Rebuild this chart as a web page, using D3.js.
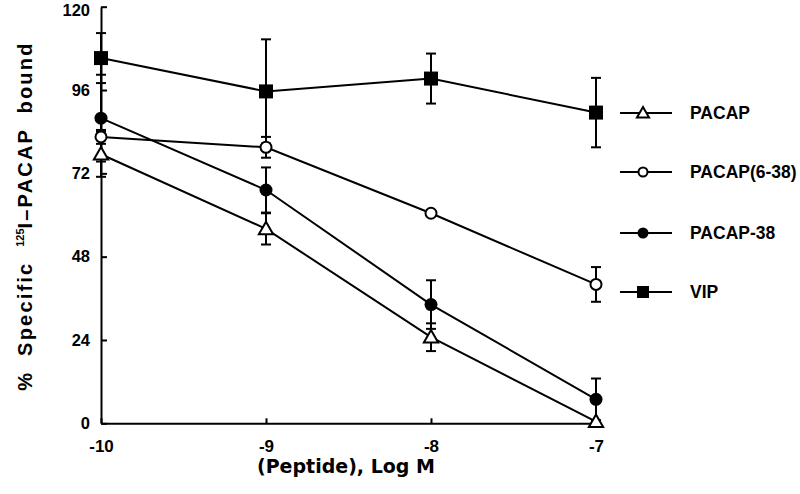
<!DOCTYPE html>
<html>
<head>
<meta charset="utf-8">
<script src="https://cdn.jsdelivr.net/npm/d3@7"></script>
<style>
  body { margin: 0; background: #fff; }
  svg { display: block; }
</style>
</head>
<body>
<svg id="chart"></svg>
<script>
// data
var logDose = [-10, -9, -8, -7];
var seriesNames = ["PACAP", "PACAP(6-38)", "PACAP-38", "VIP"];
var seriesShapes = ["triangle", "openCircle", "circle", "square"];
var pacapVals = [77.5, 56, 24.8, 0.5];
var pacapErr = [6.5, 4.5, 4, 0];
var pacap638Vals = [82.5, 79.5, 60.5, 40];
var pacap638Err = [2, 3, 0, 5];
var pacap38Vals = [87.9, 67.2, 34.2, 6.9];
var pacap38Err = [12.5, 6.5, 7, 6];
var vipVals = [105.2, 95.6, 99.3, 89.5];
var vipErr = [7.2, 15, 7.2, 10];
var yTicks = [0, 24, 48, 72, 96, 120];

var allVals = [pacapVals, pacap638Vals, pacap38Vals, vipVals];
var allErr = [pacapErr, pacap638Err, pacap38Err, vipErr];

var W = 800, H = 494;
var svg = d3.select("#chart").attr("width", W).attr("height", H);

var x = d3.scaleLinear().domain([-10, -7]).range([101, 596]);
var y = d3.scaleLinear().domain([0, 120]).range([423.3, 6.7]);

var ink = "#000";
var font = "'Liberation Sans', Arial, sans-serif";

// axes
var yAxis = d3.axisLeft(y).tickValues(yTicks).tickSizeInner(-6).tickSizeOuter(0).tickPadding(11);
var gy = svg.append("g").attr("transform", "translate(" + x(-10) + ",0)").call(yAxis);
var xAxis = d3.axisBottom(x).tickValues(logDose).tickSizeInner(-5).tickSizeOuter(0)
  .tickPadding(14).tickFormat(function(d){ return String(d); });
var gx = svg.append("g").attr("transform", "translate(0," + y(0) + ")").call(xAxis);

[gx, gy].forEach(function(g){
  g.select(".domain").attr("stroke", ink).attr("stroke-width", 2);
  g.selectAll(".tick line").attr("stroke", ink).attr("stroke-width", 2);
  g.selectAll(".tick text").attr("fill", ink)
    .style("font-family", font).style("font-size", "16.5px").style("font-weight", "bold");
});
gx.selectAll(".tick text").attr("dy", "0.85em").style("font-size", "17px");
// keep the top label inside the picture
gy.selectAll(".tick text").filter(function(d){ return d === 120; }).attr("dy", "0.55em");

// axis titles
svg.append("text")
  .attr("transform", "translate(32,216) rotate(-90)")
  .attr("text-anchor", "middle")
  .style("font-family", font).style("font-size", "20px").style("font-weight", "bold")
  .style("letter-spacing", "2.2px").style("word-spacing", "7px")
  .call(function(t){
    t.append("tspan").text("%  Specific  ");
    t.append("tspan").attr("dy", -8).style("font-size", "11px").style("letter-spacing", "0px").text("125");
    t.append("tspan").attr("dy", 8).text("I\u2013PACAP  bound");
  });

svg.append("text")
  .attr("x", 346).attr("y", 473)
  .attr("text-anchor", "middle")
  .style("font-family", "'DejaVu Sans', sans-serif").style("font-size", "19px").style("font-weight", "bold")
  .text("(Peptide), Log M");

// marker drawing
function drawMarker(g, shape, cx, cy, s) {
  if (shape === "square") {
    g.append("rect").attr("x", cx - s).attr("y", cy - s).attr("width", 2 * s).attr("height", 2 * s)
      .attr("fill", ink);
  } else if (shape === "circle") {
    g.append("circle").attr("cx", cx).attr("cy", cy).attr("r", s).attr("fill", ink);
  } else if (shape === "openCircle") {
    g.append("circle").attr("cx", cx).attr("cy", cy).attr("r", s - 1).attr("fill", "#fff")
      .attr("stroke", ink).attr("stroke-width", 2);
  } else {
    var h = s * 1.1;
    g.append("path")
      .attr("d", "M" + cx + "," + (cy - h) + "L" + (cx + h) + "," + (cy + h * 0.75) + "L" + (cx - h) + "," + (cy + h * 0.75) + "Z")
      .attr("fill", "#fff").attr("stroke", ink).attr("stroke-width", 2).attr("stroke-linejoin", "miter");
  }
}

var line = d3.line().x(function(d){ return x(d[0]); }).y(function(d){ return y(d[1]); });

// error bars
allVals.forEach(function(vals, i){
  var g = svg.append("g").attr("class", "errors");
  vals.forEach(function(v, j){
    var e = allErr[i][j];
    if (!e) return;
    var lo = Math.max(0, v - e), hi = v + e;
    var cx = x(logDose[j]);
    g.append("line").attr("x1", cx).attr("x2", cx).attr("y1", y(lo)).attr("y2", y(hi))
      .attr("stroke", ink).attr("stroke-width", 2);
    g.append("line").attr("x1", cx - 5).attr("x2", cx + 5).attr("y1", y(hi)).attr("y2", y(hi))
      .attr("stroke", ink).attr("stroke-width", 2);
    if (v - e > 0)
      g.append("line").attr("x1", cx - 5).attr("x2", cx + 5).attr("y1", y(lo)).attr("y2", y(lo))
        .attr("stroke", ink).attr("stroke-width", 2);
  });
});

// lines then markers
allVals.forEach(function(vals, i){
  var pts = vals.map(function(v, j){ return [logDose[j], v]; });
  svg.append("path").datum(pts).attr("d", line)
    .attr("fill", "none").attr("stroke", ink).attr("stroke-width", 2);
});
allVals.forEach(function(vals, i){
  var g = svg.append("g");
  vals.forEach(function(v, j){
    drawMarker(g, seriesShapes[i], x(logDose[j]), y(v), seriesShapes[i] === "square" ? 7 : 6.5);
  });
});

// legend
var legendY = [113, 172, 233, 292];
seriesNames.forEach(function(name, i){
  var g = svg.append("g").attr("class", "legend");
  g.append("line").attr("x1", 620).attr("x2", 672).attr("y1", legendY[i]).attr("y2", legendY[i])
    .attr("stroke", ink).attr("stroke-width", 2);
  drawMarker(g, seriesShapes[i], 643, legendY[i], seriesShapes[i] === "square" ? 6 : 5.5);
  g.append("text").attr("x", 690).attr("y", legendY[i]).attr("dy", "0.36em")
    .style("font-family", font).style("font-size", "17.5px").style("font-weight", "bold")
    .text(name);
});
</script>
</body>
</html>
